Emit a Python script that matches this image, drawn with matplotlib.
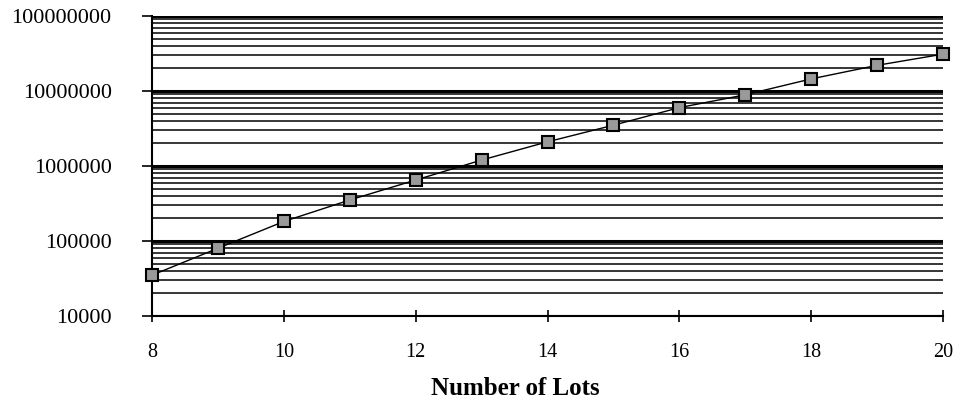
import matplotlib
matplotlib.use("Agg")
import matplotlib.pyplot as plt
from matplotlib.ticker import LogLocator, FixedLocator, NullFormatter

lots = [8, 9, 10, 11, 12, 13, 14, 15, 16, 17, 18, 19, 20]
values = [35000, 80000, 182000, 352000, 650000, 1200000, 2100000,
          3500000, 6000000, 8900000, 14500000, 22000000, 31000000]
x_ticks = [8, 10, 12, 14, 16, 18, 20]
y_ticks = [1e4, 1e5, 1e6, 1e7, 1e8]
y_labels = ["10000", "100000", "1000000", "10000000", "100000000"]

plt.rcParams["font.family"] = ["Liberation Serif", "DejaVu Serif"]

fig = plt.figure(figsize=(9.54, 4.03), dpi=100)
ax = fig.add_axes([0.1593, 0.2159, 0.8292, 0.7444])

ax.set_yscale("log")
ax.set_xlim(8, 20)
ax.set_ylim(1e4, 1e8)

# horizontal grid: thick at decades, thinner at 2..9
ax.yaxis.set_minor_locator(LogLocator(base=10, subs=range(2, 10)))
ax.yaxis.set_minor_formatter(NullFormatter())
ax.yaxis.set_major_locator(FixedLocator(y_ticks))
ax.set_yticklabels(y_labels)
ax.grid(True, axis="y", which="major", color="black", linewidth=2.2)
ax.grid(True, axis="y", which="minor", color="black", linewidth=1.1)
ax.grid(False, axis="x")
ax.set_axisbelow(True)

ax.plot(lots, values, color="black", linewidth=1.0, marker="s",
        markersize=8, markerfacecolor="#9a9a9a", markeredgecolor="black",
        markeredgewidth=1.5, zorder=3, clip_on=False)

ax.set_xticks(x_ticks)
ax.tick_params(axis="x", which="major", direction="inout", length=9,
               width=1.2, pad=15, labelsize=14.5)
ax.tick_params(axis="y", which="major", direction="out", length=7,
               width=1.2, pad=22, labelsize=16)
ax.tick_params(axis="y", which="minor", length=0)

for side in ["top", "right"]:
    ax.spines[side].set_visible(False)
ax.spines["left"].set_linewidth(1.5)
ax.spines["bottom"].set_linewidth(1.5)

ax.set_xlabel("Number of Lots", fontsize=18, fontweight="bold", va="top")
ax.xaxis.set_label_coords(0.459, -0.205)

fig.savefig("out.png", dpi=100)
